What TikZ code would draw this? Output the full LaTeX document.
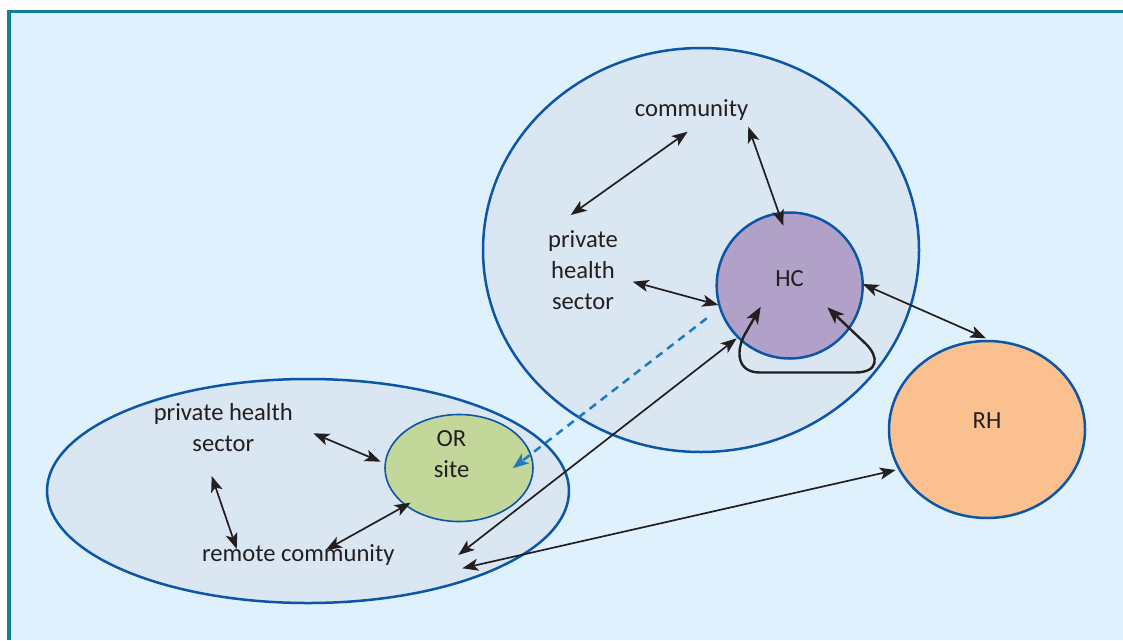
\documentclass[tikz,border=0pt]{standalone}
\usepackage{fontspec}
\setmainfont{Carlito}
\usetikzlibrary{arrows.meta,shapes.geometric}
\definecolor{bgblue}{HTML}{DFF1FC}
\definecolor{framecol}{HTML}{137D99}
\definecolor{zonefill}{HTML}{DAE6F2}
\definecolor{zoneline}{HTML}{0B56A6}
\definecolor{hcfill}{HTML}{B1A1C8}
\definecolor{orfill}{HTML}{C4D79B}
\definecolor{rhfill}{HTML}{FBC08F}
\definecolor{dashblue}{HTML}{1A7BC4}
\definecolor{ink}{HTML}{231F20}
\begin{document}
\begin{tikzpicture}[x=1pt,y=-1pt,
  zone/.style={ellipse, draw=zoneline, fill=zonefill, line width=2.5pt, inner sep=0pt},
  unit/.style={ellipse, draw=zoneline, line width=2.5pt, inner sep=0pt},
  lbl/.style={text=ink, font=\fontsize{24.6}{31}\selectfont, inner sep=0pt, align=center},
  link/.style={draw=ink, line width=1.7pt, {Stealth[length=16pt,width=12pt,inset=4pt]}-{Stealth[length=16pt,width=12pt,inset=4pt]}},
  selfloop/.style={draw=ink, line width=2.4pt, {Stealth[length=17pt,width=13pt,inset=4.5pt]}-{Stealth[length=17pt,width=13pt,inset=4.5pt]}},
  referral/.style={draw=dashblue, line width=2.5pt, dash pattern=on 8pt off 6pt, -{Stealth[length=16pt,width=12pt,inset=4pt]}}
]
\useasboundingbox (0,0) rectangle (1123,640);
\fill[white] (0,0) rectangle (1123,640);
\fill[bgblue] (9,11.7) rectangle (1123,640);
\draw[framecol, line width=3.2pt] (9,640) -- (9,11.7) -- (1123,11.7);

% catchment areas
\node[zone, minimum width=436pt, minimum height=404pt] (hcz) at (701,250) {};
\node[zone, minimum width=522pt, minimum height=224pt] (orz) at (308,491) {};

% facilities
\node[unit, fill=hcfill, minimum width=146pt, minimum height=146pt] (hc) at (789.7,285.5) {};
\node[unit, fill=orfill, line width=1.6pt, minimum width=148pt, minimum height=107pt] (or) at (459,468) {};
\node[unit, fill=rhfill, minimum width=196pt, minimum height=177pt] (rh) at (987,429.5) {};

% labels
\node[lbl, anchor=base] (comm) at (691.5,116) {community};
\node[lbl] (phsA) at (583,270) {private\\health\\sector};
\node[lbl] (hct) at (789.5,279) {HC};
\node[lbl] (rht) at (987,421) {RH};
\node[lbl] (ort) at (451.5,453.7) {OR\\site};
\node[lbl] (phsB) at (223.3,427.5) {private health\\sector};
\node[lbl, anchor=base] (remote) at (298.3,561) {remote community};

% connector end points
\coordinate (c1a) at (687.7,131.7); \coordinate (c1b) at (570.7,215);
\coordinate (c2a) at (748.3,126.7); \coordinate (c2b) at (783.3,225.7);
\coordinate (c3a) at (632.7,281.7); \coordinate (c3b) at (718.3,305);
\coordinate (c4a) at (862.7,284);   \coordinate (c4b) at (986,338.3);
\coordinate (c5a) at (736.7,338.3); \coordinate (c5b) at (458.3,555);
\coordinate (c6a) at (895.7,470);   \coordinate (c6b) at (462.3,568.3);
\coordinate (c7a) at (313.3,433.3); \coordinate (c7b) at (380.7,461.7);
\coordinate (c8a) at (211.7,476);   \coordinate (c8b) at (236.7,549);
\coordinate (c9a) at (410.7,502.7); \coordinate (c9b) at (325.7,550);
\coordinate (d1) at (706.7,318.3);  \coordinate (d2) at (512.7,468.3);
\coordinate (la) at (760.7,306.7);  \coordinate (lb) at (827.3,307.3);

% two-way links
\draw[link] (c1a) -- (c1b);
\draw[link] (c2a) -- (c2b);
\draw[link] (c3a) -- (c3b);
\draw[link] (c4a) -- (c4b);
\draw[link] (c5a) -- (c5b);
\draw[link] (c6a) -- (c6b);
\draw[link] (c7a) -- (c7b);
\draw[link] (c8a) -- (c8b);
\draw[link] (c9a) -- (c9b);

% referral from HC to the outreach site
\draw[referral] (d1) -- (d2);

% loop within the health centre
\draw[selfloop] (la) -- (745,334) .. controls (736,350) and (736,372.5) .. (760,372.5)
  -- (855,372.5) .. controls (879,372.5) and (879,357) .. (866,344) -- (lb);
\end{tikzpicture}
\end{document}
